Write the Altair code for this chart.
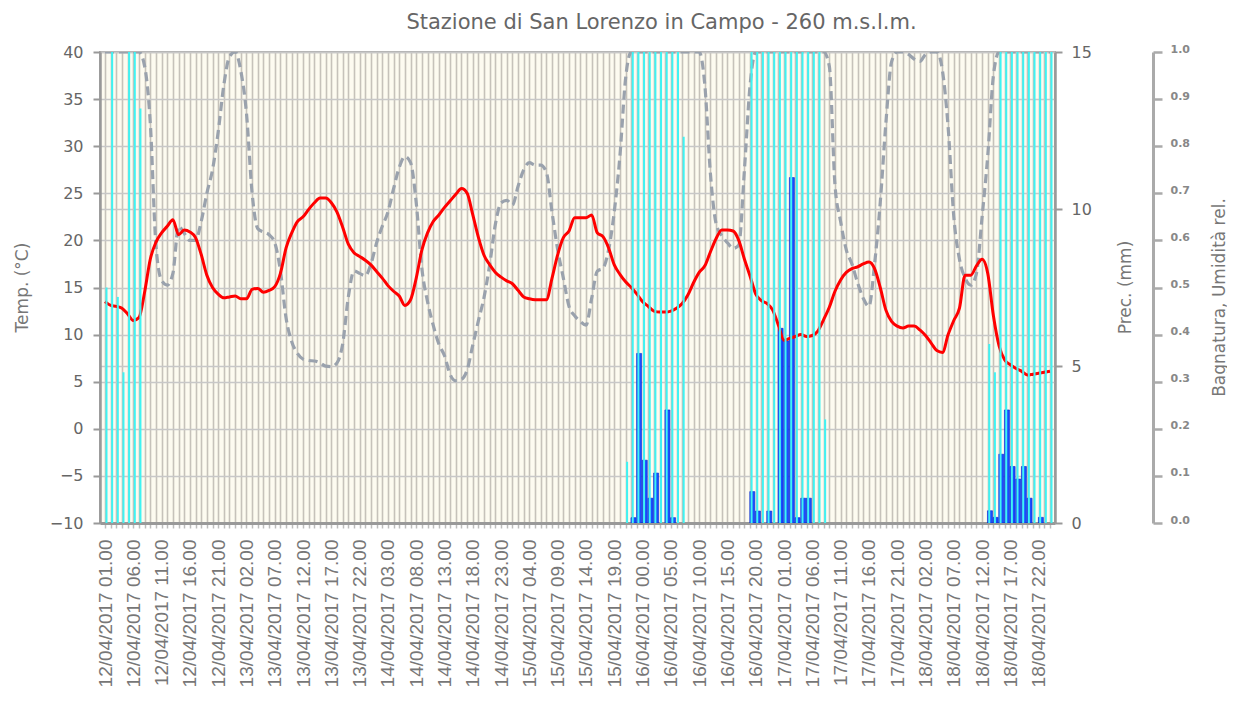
import altair as alt
import pandas as pd

# hourly series, index 0 = 12/04/2017 01.00
temp = [
    13.5, 13.1, 13.0, 12.8, 12.2, 11.5, 11.8, 14.5, 18.0, 19.8, 20.8, 21.5,
    22.2, 20.6, 21.1, 20.9, 20.3, 18.5, 16.3, 15.0, 14.3, 13.9, 14.0, 14.1,
    13.8, 13.8, 14.8, 14.9, 14.5, 14.7, 15.1, 16.5, 19.2, 20.8, 22.0, 22.5,
    23.3, 24.0, 24.5, 24.5, 24.0, 23.0, 21.4, 19.6, 18.7, 18.3, 17.9, 17.4,
    16.7, 16.0, 15.2, 14.6, 14.1, 13.1, 13.7, 16.0, 19.0, 20.8, 22.0, 22.7,
    23.5, 24.2, 24.9, 25.5, 25.0, 22.7, 20.3, 18.4, 17.4, 16.6, 16.1, 15.7,
    15.4, 14.7, 14.0, 13.8, 13.7, 13.7, 13.7, 16.0, 18.5, 20.3, 21.0, 22.4,
    22.4, 22.4, 22.7, 20.8, 20.4, 19.2, 17.4, 16.4, 15.6, 15.0, 14.3, 13.5,
    13.0, 12.5, 12.4, 12.4, 12.5, 12.8, 13.3, 14.2, 15.5, 16.6, 17.3, 18.8,
    20.2, 21.1, 21.1, 21.0, 20.0, 18.0, 16.2, 14.3, 13.6, 13.3, 12.6, 11.0,
    9.4, 9.6, 9.8, 10.0, 9.8, 9.9, 10.4, 11.6, 12.9, 14.6, 15.8, 16.6,
    17.0, 17.2, 17.5, 17.7, 17.0, 15.0, 12.6, 11.4, 10.9, 10.7, 10.9, 10.9,
    10.5, 9.9, 9.1, 8.3, 8.1, 10.0, 11.5, 12.8, 16.3, 16.3, 17.3, 18.0,
    16.5, 12.0, 8.8, 7.3, 6.8, 6.4, 6.1, 5.7, 5.8, 5.9, 6.0, 6.1,
]

hum = [
    1.0, 1.0, 1.0, 1.0, 1.0, 1.0, 1.0, 0.97, 0.85, 0.59, 0.515, 0.505,
    0.53, 0.63, 0.615, 0.60, 0.60, 0.64, 0.70, 0.75, 0.83, 0.93, 0.99, 1.0,
    0.96, 0.87, 0.70, 0.625, 0.618, 0.612, 0.595, 0.535, 0.435, 0.385, 0.36, 0.348,
    0.345, 0.344, 0.34, 0.333, 0.332, 0.34, 0.38, 0.48, 0.535, 0.53, 0.525, 0.55,
    0.595, 0.63, 0.66, 0.71, 0.755, 0.778, 0.765, 0.68, 0.54, 0.47, 0.42, 0.38,
    0.355, 0.315, 0.302, 0.305, 0.325, 0.378, 0.43, 0.48, 0.55, 0.635, 0.68, 0.685,
    0.675, 0.715, 0.75, 0.765, 0.76, 0.76, 0.745, 0.66, 0.58, 0.52, 0.46, 0.44,
    0.428, 0.42, 0.477, 0.535, 0.541, 0.58, 0.661, 0.78, 0.944, 1.0, 1.0, 1.0,
    1.0, 1.0, 1.0, 1.0, 1.0, 1.0, 1.0, 1.0, 1.0, 1.0, 0.93, 0.74,
    0.635, 0.61, 0.595, 0.583, 0.59, 0.75, 0.93, 1.0, 1.0, 1.0, 1.0, 1.0,
    1.0, 1.0, 1.0, 1.0, 1.0, 1.0, 1.0, 1.0, 0.97, 0.718, 0.64, 0.58,
    0.55, 0.51, 0.477, 0.46, 0.55, 0.68, 0.85, 0.979, 1.0, 1.0, 0.995, 0.985,
    0.98, 0.995, 1.0, 1.0, 0.96, 0.84, 0.65, 0.56, 0.52, 0.505, 0.53, 0.65,
    0.78, 0.95, 1.0, 1.0, 1.0, 1.0, 1.0, 1.0, 1.0, 1.0, 1.0, 1.0,
]

prec = [
    0, 0, 0, 0, 0, 0, 0, 0, 0, 0, 0, 0,
    0, 0, 0, 0, 0, 0, 0, 0, 0, 0, 0, 0,
    0, 0, 0, 0, 0, 0, 0, 0, 0, 0, 0, 0,
    0, 0, 0, 0, 0, 0, 0, 0, 0, 0, 0, 0,
    0, 0, 0, 0, 0, 0, 0, 0, 0, 0, 0, 0,
    0, 0, 0, 0, 0, 0, 0, 0, 0, 0, 0, 0,
    0, 0, 0, 0, 0, 0, 0, 0, 0, 0, 0, 0,
    0, 0, 0, 0, 0, 0, 0, 0, 0, 0.17, 5.4, 2.0,
    0.79, 1.59, 0, 3.6, 0.17, 0, 0, 0, 0, 0, 0, 0,
    0, 0, 0, 0, 0, 0, 1.0, 0.38, 0, 0.38, 0, 6.2,
    5.8, 11.0, 0.17, 0.79, 0.79, 0, 0, 0, 0, 0, 0, 0,
    0, 0, 0, 0, 0, 0, 0, 0, 0, 0, 0, 0,
    0, 0, 0, 0, 0, 0, 0, 0, 0, 0, 0, 0,
    0.39, 0.18, 2.19, 3.6, 1.8, 1.4, 1.8, 0.79, 0, 0.18, 0, 0,
]

wet = [
    0.5, 1.0, 0.48, 0.32, 1.0, 1.0, 0.88, 0, 0, 0, 0, 0,
    0, 0, 0, 0, 0, 0, 0, 0, 0, 0, 0, 0,
    0, 0, 0, 0, 0, 0, 0, 0, 0, 0, 0, 0,
    0, 0, 0, 0, 0, 0, 0, 0, 0, 0, 0, 0,
    0, 0, 0, 0, 0, 0, 0, 0, 0, 0, 0, 0,
    0, 0, 0, 0, 0, 0, 0, 0, 0, 0, 0, 0,
    0, 0, 0, 0, 0, 0, 0, 0, 0, 0, 0, 0,
    0, 0, 0, 0, 0, 0, 0, 0, 0.13, 1.0, 1.0, 1.0,
    1.0, 1.0, 1.0, 1.0, 1.0, 1.0, 0.82, 0, 0, 0, 0, 0,
    0, 0, 0, 0, 0, 0, 1.0, 1.0, 1.0, 1.0, 1.0, 1.0,
    1.0, 1.0, 1.0, 1.0, 1.0, 1.0, 1.0, 0.22, 0, 0, 0, 0,
    0, 0, 0, 0, 0, 0, 0, 0, 0, 0, 0, 0,
    0, 0, 0, 0, 0, 0, 0, 0, 0, 0, 0, 0,
    0.38, 0.32, 1.0, 1.0, 1.0, 1.0, 1.0, 1.0, 1.0, 1.0, 1.0, 1.0,
]

x_labels = [
    "12/04/2017 01.00", "12/04/2017 06.00", "12/04/2017 11.00", "12/04/2017 16.00",
    "12/04/2017 21.00", "13/04/2017 02.00", "13/04/2017 07.00", "13/04/2017 12.00",
    "13/04/2017 17.00", "13/04/2017 22.00", "14/04/2017 03.00", "14/04/2017 08.00",
    "14/04/2017 13.00", "14/04/2017 18.00", "14/04/2017 23.00", "15/04/2017 04.00",
    "15/04/2017 09.00", "15/04/2017 14.00", "15/04/2017 19.00", "16/04/2017 00.00",
    "16/04/2017 05.00", "16/04/2017 10.00", "16/04/2017 15.00", "16/04/2017 20.00",
    "17/04/2017 01.00", "17/04/2017 06.00", "17/04/2017 11.00", "17/04/2017 16.00",
    "17/04/2017 21.00", "18/04/2017 02.00", "18/04/2017 07.00", "18/04/2017 12.00",
    "18/04/2017 17.00", "18/04/2017 22.00",
]
temp_ticks = [-10, -5, 0, 5, 10, 15, 20, 25, 30, 35, 40]
prec_ticks = [0, 5, 10, 15]
rel_ticks = [0.0, 0.1, 0.2, 0.3, 0.4, 0.5, 0.6, 0.7, 0.8, 0.9, 1.0]

hours = list(range(len(temp)))
df = pd.DataFrame({"h": hours, "temp": temp, "hum": hum, "prec": prec, "wet": wet})

labels_js = "[" + ",".join("'" + s + "'" for s in x_labels) + "]"
label_expr = "datum.value % 5 == 0 ? " + labels_js + "[datum.value / 5] : ''"

GREY = "#999999"
x_enc = alt.X(
    "h:Q",
    scale=alt.Scale(domain=[0, 167], nice=False, zero=False),
    axis=alt.Axis(
        values=hours, labelExpr=label_expr, labelAngle=270, labelAlign="right",
        labelBaseline="middle", labelFont="Liberation Sans", labelFontSize=19,
        labelColor="#777777", labelPadding=11, labelOverlap=False, labelFlush=False,
        tickSize=5, tickColor="#bdbdbd", tickWidth=1.5,
        domainColor=GREY, domainWidth=3,
        grid=True, gridColor="#c6c2ba", gridWidth=1.6, title=None,
    ),
)

base = alt.Chart(df)

blue = base.transform_filter("datum.prec > 0").mark_bar(
    width=5, xOffset=2.2, color="#1a4dff", stroke="#0026d0", strokeWidth=0.6, clip=True
).encode(
    x=x_enc,
    y=alt.Y("prec:Q", stack=None, scale=alt.Scale(domain=[0, 15], nice=False),
            axis=alt.Axis(orient="right", values=prec_ticks, grid=True,
                          gridColor="#c8c8c8", gridWidth=1.5,
                          labelFont="DejaVu Sans", labelFontSize=16, labelColor="#666666",
                          labelPadding=9, tickSize=7, tickColor=GREY, tickWidth=2,
                          domainColor=GREY, domainWidth=2.5,
                          title="Prec. (mm)", titleFont="DejaVu Sans", titleFontSize=17,
                          titleFontWeight="normal", titleColor="#777777",
                          titleAngle=270, titleX=70, titleY=235, titleBaseline="middle",
                          titleAlign="center")),
)

humline = base.mark_line(
    color="#9aa2ad", strokeWidth=3.2, strokeDash=[9, 5], interpolate="monotone", clip=True
).encode(
    x=x_enc,
    y=alt.Y("hum:Q", scale=alt.Scale(domain=[0, 1], nice=False), axis=None),
)

templine = base.mark_line(
    color="#ff0000", strokeWidth=3, interpolate="monotone", clip=True
).encode(
    x=x_enc,
    y=alt.Y("temp:Q", scale=alt.Scale(domain=[-10, 40], nice=False, zero=False),
            axis=alt.Axis(orient="left", values=temp_ticks, grid=True,
                          gridColor="#c8c8c8", gridWidth=1.5,
                          labelFont="DejaVu Sans", labelFontSize=16, labelColor="#666666",
                          labelPadding=10, tickSize=7, tickColor=GREY, tickWidth=2,
                          domainColor=GREY, domainWidth=2.5,
                          title="Temp.  (°C)", titleFont="DejaVu Sans", titleFontSize=17,
                          titleFontWeight="normal", titleColor="#777777",
                          titleAngle=270, titleX=-78, titleY=235, titleBaseline="middle",
                          titleAlign="center")),
)

cyan = base.transform_filter("datum.wet > 0").mark_bar(
    width=2, xOffset=1.5, color="#3ff3f3", clip=True
).encode(
    x=x_enc,
    y=alt.Y("wet:Q", stack=None, scale=alt.Scale(domain=[0, 1], nice=False),
            axis=alt.Axis(orient="right", offset=98, values=rel_ticks, format=".1f",
                          grid=False, labelFont="DejaVu Sans", labelFontSize=11,
                          labelFontWeight="bold", labelColor="#888888",
                          labelBaseline="alphabetic", labelPadding=8,
                          tickSize=9, tickColor="#aaaaaa", tickWidth=2.5,
                          domainColor="#aaaaaa", domainWidth=3,
                          title="Bagnatura, Umidità rel.", titleFont="DejaVu Sans",
                          titleFontSize=17, titleFontWeight="normal", titleColor="#777777",
                          titleAngle=270, titleX=66, titleY=245, titleBaseline="middle",
                          titleAlign="center")),
)

chart = alt.layer(blue, humline, templine, cyan).resolve_scale(
    y="independent"
).properties(
    width=955,
    height=471,
    title=alt.TitleParams(
        "Stazione di San Lorenzo in Campo - 260 m.s.l.m.",
        font="DejaVu Sans", fontSize=21, fontWeight="normal", color="#666666",
        anchor="middle", frame="group", dx=84, dy=7, offset=0, baseline="alphabetic",
    ),
    autosize=alt.AutoSizeParams(type="none"),
    padding={"left": 92, "top": 44, "right": 172, "bottom": 170},
).configure_view(
    fill="#fdfbf0", stroke="#a8a8a8", strokeWidth=2
)

chart.save("out.html", embed_options={"renderer": "svg", "actions": False})
